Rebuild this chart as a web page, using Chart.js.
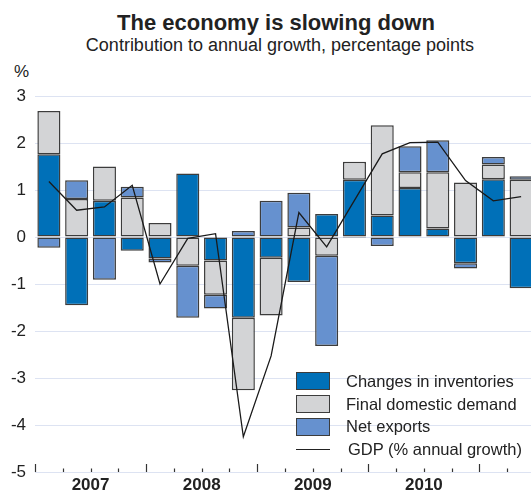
<!DOCTYPE html>
<html>
<head>
<meta charset="utf-8">
<script src="https://cdn.jsdelivr.net/npm/chart.js@4.4.1/dist/chart.umd.min.js"></script>
<style>
  html, body { margin: 0; padding: 0; background: #fff; overflow: hidden; }
  body { width: 531px; height: 492px; position: relative; font-family: "Liberation Sans", Arial, sans-serif; color: #222; }
  #wrap { position: absolute; left: 0; top: 0; width: 535px; height: 492px; }
  .title { position: absolute; top: 10px; left: 0; width: 552px; text-align: center; font-weight: bold; font-size: 22px; }
  .subtitle { position: absolute; top: 35px; left: 0; width: 560px; text-align: center; font-size: 18px; }
  .unit { position: absolute; left: 14px; top: 62px; font-size: 17px; }
  .legend { position: absolute; left: 296px; top: 370px; font-size: 16.5px; }
  .legend .row { height: 22.7px; display: flex; align-items: center; }
  .legend .box { width: 32px; height: 16px; border: 1.5px solid #3c3c3c; margin-right: 16px; }
  .legend .ln { width: 34px; height: 0; border-top: 1.3px solid #222; margin-right: 18px; }
</style>
</head>
<body>
<div class="title">The economy is slowing down</div>
<div class="subtitle">Contribution to annual growth, percentage points</div>
<div class="unit">%</div>
<div id="wrap"><canvas id="c" width="535" height="492"></canvas></div>
<div class="legend" id="legend"></div>
<script>
// quarters 2007Q1 .. 2011Q2
const quarters = ['2007Q1','2007Q2','2007Q3','2007Q4','2008Q1','2008Q2','2008Q3','2008Q4',
  '2009Q1','2009Q2','2009Q3','2009Q4','2010Q1','2010Q2','2010Q3','2010Q4','2011Q1','2011Q2'];
const inventories = [1.76, -1.45, 0.77, -0.29, -0.46, 1.35, -0.50, -1.72, -0.44, -0.96, 0.49, 1.22, 0.46, 1.04, 0.18, -0.56, 1.23, -1.09];
const finalDemand = [0.92, 0.81, 0.73, 0.84, 0.30, -0.61, -0.73, -1.54, -1.23, 0.20, -0.40, 0.38, 1.92, 0.34, 1.20, 1.16, 0.31, 1.22];
const netExports = [-0.23, 0.40, -0.91, 0.23, -0.08, -1.11, -0.29, 0.13, 0.77, 0.74, -1.92, -0.02, -0.19, 0.55, 0.68, -0.11, 0.16, 0.07];
const gdp = [1.18, 0.57, 0.64, 1.10, -1.00, -0.03, 0.07, -4.25, -2.53, 0.52, -0.21, 0.78, 1.77, 2.01, 2.02, 1.20, 0.77, 0.86];
// year label sits on the second quarter, shifted half a bar to the right
const yearLabels = { '2007Q2': '2007', '2008Q2': '2008', '2009Q2': '2009', '2010Q2': '2010' };

const FONT = '"Liberation Sans", Arial, sans-serif';
const colors = { inv: '#0070b8', fdd: '#d3d4d6', nx: '#6691cf', border: '#3c3c3c' };

// legend
const legendItems = [
  { label: 'Changes in inventories', color: colors.inv },
  { label: 'Final domestic demand', color: colors.fdd },
  { label: 'Net exports', color: colors.nx },
  { label: 'GDP (% annual growth)', line: true }
];
document.getElementById('legend').innerHTML = legendItems.map(it =>
  `<div class="row">${it.line ? '<div class="ln"></div>' : `<div class="box" style="background:${it.color}"></div>`}<span>${it.label}</span></div>`
).join('');

// quarter tick marks drawn upward from the bottom axis
const tickMarks = {
  id: 'tickMarks',
  afterDatasetsDraw(chart) {
    const ctx = chart.ctx;
    const sc = chart.scales.x;
    const bottom = chart.chartArea.bottom;
    const half = (sc.getPixelForValue(1) - sc.getPixelForValue(0)) / 2;
    ctx.save();
    ctx.strokeStyle = '#333';
    ctx.lineWidth = 1.2;
    for (let i = 0; i <= quarters.length; i++) {
      const x = Math.round(sc.getPixelForValue(i) - half) + 0.5;
      const len = i % 4 === 0 ? 8 : 3.5;
      ctx.beginPath();
      ctx.moveTo(x, bottom);
      ctx.lineTo(x, bottom - len);
      ctx.stroke();
    }
    ctx.restore();
  }
};

const barStyle = { borderColor: colors.border, borderWidth: 1.5, borderSkipped: false, order: 1, stack: 'bars' };

new Chart(document.getElementById('c'), {
  type: 'bar',
  data: {
    labels: quarters,
    datasets: [
      { label: 'Changes in inventories', data: inventories, backgroundColor: colors.inv, ...barStyle },
      { label: 'Final domestic demand', data: finalDemand, backgroundColor: colors.fdd, ...barStyle },
      { label: 'Net exports', data: netExports, backgroundColor: colors.nx, ...barStyle },
      { type: 'line', label: 'GDP (% annual growth)', data: gdp, borderColor: '#1a1a1a', borderWidth: 1.3,
        pointRadius: 0, tension: 0, fill: false, order: 0, stack: 'gdp' }
    ]
  },
  options: {
    responsive: false,
    animation: false,
    devicePixelRatio: 1,
    layout: { padding: { top: 96, right: 0, bottom: 0, left: 0 } },
    datasets: { bar: { categoryPercentage: 1, barPercentage: 0.83 } },
    plugins: { legend: { display: false }, tooltip: { enabled: false }, title: { display: false } },
    scales: {
      x: {
        type: 'category', stacked: true,
        grid: { display: false, drawTicks: false }, border: { display: false },
        afterFit: axis => { axis.height = 20; },
        ticks: {
          autoSkip: false, maxRotation: 0, minRotation: 0, padding: 3, color: '#222',
          labelOffset: 13.9,
          font: { family: FONT, size: 17, weight: 'bold' },
          callback: function (v) { return yearLabels[this.getLabelForValue(v)] || ''; }
        }
      },
      y: {
        stacked: true, min: -5, max: 3,
        afterFit: axis => { axis.width = 35; },
        grid: { color: '#dde3f2', lineWidth: 1, drawTicks: false },
        border: { display: false },
        ticks: { stepSize: 1, padding: 9, color: '#222', font: { family: FONT, size: 17 } }
      }
    }
  },
  plugins: [tickMarks]
});
</script>
</body>
</html>
